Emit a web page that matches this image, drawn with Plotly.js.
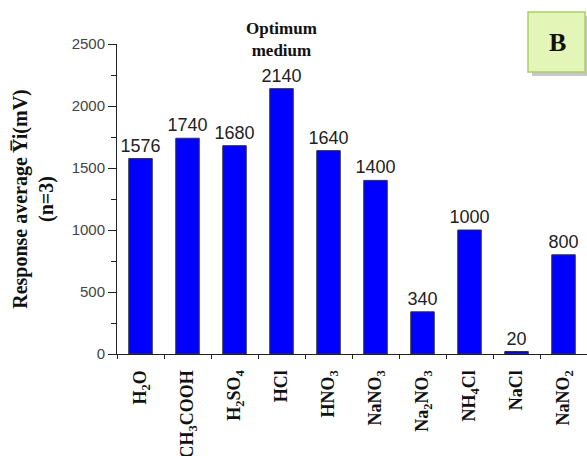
<!DOCTYPE html>
<html><head><meta charset="utf-8">
<script src="https://cdn.plot.ly/plotly-3.0.1.min.js"></script>
<style>html,body{margin:0;padding:0;background:#fff}#chart{width:587px;height:456px}</style>
</head><body><div id="chart"></div>
<script>
const categories = ["H2O","CH3COOH","H2SO4","HCl","HNO3","NaNO3","Na2NO3","NH4Cl","NaCl","NaNO2"];
const tickLabels = ["H<sub>2</sub>O","CH<sub>3</sub>COOH","H<sub>2</sub>SO<sub>4</sub>","HCl","HNO<sub>3</sub>","NaNO<sub>3</sub>","Na<sub>2</sub>NO<sub>3</sub>","NH<sub>4</sub>Cl","NaCl","NaNO<sub>2</sub>"];
const responses = [1576,1740,1680,2140,1640,1400,340,1000,20,800];
const yTicks = [0,500,1000,1500,2000,2500];

const trace = {
  type:'bar', x:categories, y:responses,
  width:0.5,
  marker:{color:'#0000ff', line:{color:'#333333', width:1}},
  text:responses.map(String), textposition:'outside', cliponaxis:false, constraintext:'none',
  textfont:{family:'Liberation Sans, Arial', size:18, color:'#222'},
  hoverinfo:'none'
};
const layout = {
  width:587, height:456,
  margin:{l:117, r:0, t:44, b:102},
  paper_bgcolor:'#fff', plot_bgcolor:'#fff',
  showlegend:false,
  xaxis:{type:'category', tickvals:categories, ticktext:tickLabels, tickangle:-90,
    tickfont:{family:'Liberation Serif, Times New Roman', size:18, color:'#111', weight:'bold'},
    showline:true, linecolor:'#222', linewidth:1, ticks:'outside', ticklen:4, tickcolor:'#222',
    ticklabelstandoff:8,
    tickson:'boundaries', showgrid:false, range:[-0.5,9.5], fixedrange:true},
  yaxis:{range:[0,2500], tickvals:yTicks, ticks:'outside', ticklen:8, tickcolor:'#222',
    minor:{dtick:250, ticks:'outside', ticklen:5, tickcolor:'#222', showgrid:false},
    tickfont:{family:'Liberation Sans, Arial', size:15, color:'#444'},
    showline:true, linecolor:'#222', linewidth:1, showgrid:false, zeroline:false,
    title:{text:'Response average Y\u0305i(mV)<br>(n=3)', standoff:12,
      font:{family:'Liberation Serif, Times New Roman', size:20, color:'#111', weight:'bold'}}},
  shapes:[
    {type:'rect', xref:'paper', yref:'paper', x0:(532-117)/470, x1:(589-117)/470, y0:(456-102-76)/310, y1:(456-102-16)/310,
     fillcolor:'#c8c8c8', line:{width:0}},
    {type:'rect', xref:'paper', yref:'paper', x0:(528-117)/470, x1:(585-117)/470, y0:(456-102-72)/310, y1:(456-102-12)/310,
     fillcolor:'#e4f5b8', line:{color:'#a9cf66', width:1.5}}
  ],
  annotations:[
    {xref:'paper', yref:'paper', x:(281-117)/470, y:(456-102-40)/310, xanchor:'center', yanchor:'middle',
     text:'Optimum<br>medium', showarrow:false,
     font:{family:'Liberation Serif, Times New Roman', size:17, color:'#111', weight:'bold'}, align:'center'},
    {xref:'paper', yref:'paper', x:(557-117)/470, y:(456-102-42)/310, xanchor:'center', yanchor:'middle',
     text:'B', showarrow:false,
     font:{family:'Liberation Serif, Times New Roman', size:26, color:'#111', weight:'bold'}}
  ]
};
Plotly.newPlot('chart',[trace],layout,{staticPlot:true});
</script></body></html>
